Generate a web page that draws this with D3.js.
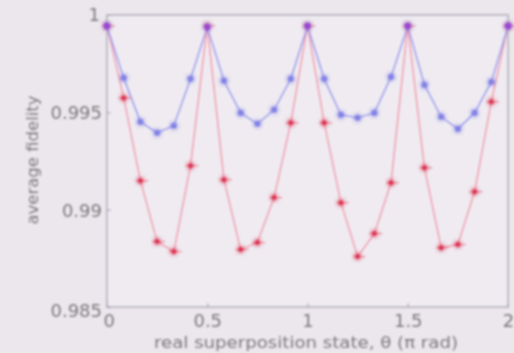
<!DOCTYPE html>
<html><head><meta charset="utf-8">
<script src="https://cdn.jsdelivr.net/npm/d3@7"></script>
<style>html,body{margin:0;padding:0;background:#ece7ec;}</style>
</head><body>
<script>
const theta = d3.range(25).map(k => k / 12);
const blueFidelity = [0.99944,0.99677,0.99451,0.99395,0.99431,0.99672,0.99938,0.99662,0.99497,0.99441,0.99513,0.99672,0.99944,0.99672,0.99487,0.99472,0.99497,0.99682,0.99944,0.99641,0.99477,0.99415,0.99497,0.99656,0.99944];
const redFidelity = [0.99944,0.99574,0.99149,0.98836,0.98785,0.99226,0.99944,0.99154,0.98795,0.98831,0.99062,0.99446,0.99944,0.99446,0.99036,0.98759,0.98877,0.99138,0.99944,0.99215,0.98805,0.98821,0.99092,0.99554,0.99944];
const xTicks = [0, 0.5, 1, 1.5, 2];
const xTickLabels = ["0", "0.5", "1", "1.5", "2"];
const yTicks = [0.985, 0.99, 0.995, 1];
const yTickLabels = ["0.985", "0.99", "0.995", "1"];

const W = 514, H = 353;
const L = 107, R = 508, T = 15, B = 307;
const FONT = "DejaVu Sans, sans-serif";
const TXT = "#7a7a7e";
const svg = d3.select("body").append("svg").attr("width", W).attr("height", H);
const defs = svg.append("defs");
defs.append("filter").attr("id","blur").append("feGaussianBlur").attr("stdDeviation",0.9);
defs.append("filter").attr("id","glow").append("feGaussianBlur").attr("stdDeviation",1.5);
svg.append("rect").attr("width",W).attr("height",H).attr("fill","#ece7ec");
const g = svg.append("g").attr("filter","url(#blur)");

const x = d3.scaleLinear().domain([0, 2]).range([L, R]);
const y = d3.scaleLinear().domain([0.985, 1]).range([B, T]);

g.append("rect").attr("x",L).attr("y",T).attr("width",R-L).attr("height",B-T)
  .attr("fill","#efebf1").attr("stroke","#a2a2b0").attr("stroke-width",1.3);

const xAxis = g.append("g").attr("transform",`translate(0,${B})`)
  .call(d3.axisBottom(x).tickValues(xTicks).tickFormat((d,i)=>xTickLabels[i]).tickSizeInner(-4).tickSizeOuter(0).tickPadding(10));
const yAxis = g.append("g").attr("transform",`translate(${L},0)`)
  .call(d3.axisLeft(y).tickValues(yTicks).tickFormat((d,i)=>yTickLabels[i]).tickSizeInner(-4).tickSizeOuter(0).tickPadding(5));
[xAxis,yAxis].forEach(a=>{
  a.select(".domain").remove();
  a.selectAll("line").attr("stroke","#a2a2b0");
  a.selectAll("text").attr("fill",TXT).attr("font-family",FONT).attr("font-size",18);
});
xAxis.selectAll("text").attr("dy","0.55em");
yAxis.selectAll("text").attr("dy","0.36em");
yAxis.selectAll(".tick").filter(d=>d===0.985).select("text").attr("dy","0.52em");
yAxis.selectAll(".tick").filter(d=>d===1).select("text").attr("dy","0.3em").attr("x",-7);
xAxis.selectAll(".tick").filter(d=>d===0).select("text").attr("dx","0.1em");

const line = d3.line().x((d,i)=>x(theta[i])).y(d=>y(d));
g.append("path").datum(redFidelity).attr("d",line).attr("fill","none").attr("stroke","#f28fa3").attr("stroke-width",1.4);
g.append("path").datum(blueFidelity).attr("d",line).attr("fill","none").attr("stroke","#9a9aee").attr("stroke-width",1.6);

// red error bars
g.append("g").selectAll("line").data(redFidelity).join("line")
  .attr("x1",(d,i)=>x(theta[i])-5).attr("x2",(d,i)=>x(theta[i])+8)
  .attr("y1",d=>y(d)).attr("y2",d=>y(d)).attr("stroke","#ee7a90").attr("stroke-width",1.2);

const drawPts = (data, fill, r) => {
  const gg = g.append("g");
  gg.selectAll("circle.h").data(data).join("circle").attr("cx",(d,i)=>x(theta[i])).attr("cy",d=>y(d)).attr("r",r+2)
    .attr("fill",fill).attr("opacity",0.3).attr("filter","url(#glow)");
  gg.selectAll("circle.p").data(data).join("circle").attr("cx",(d,i)=>x(theta[i])).attr("cy",d=>y(d)).attr("r",r)
    .attr("fill",fill);
};
drawPts(redFidelity, "#de3a5c", 3);
drawPts(blueFidelity, "#8484e6", 3.3);
// purple overlap at peaks
g.append("g").selectAll("circle").data(blueFidelity.filter((d,i)=>i%6===0)).join("circle")
  .attr("cx",(d,i)=>x(i*0.5)).attr("cy",d=>y(d)).attr("r",3.6).attr("fill","#9c48d0");

g.append("text").attr("transform","translate(306,348) scale(1.1,1)").attr("text-anchor","middle")
  .attr("fill",TXT).attr("font-family",FONT).attr("font-size",16.5)
  .text("real superposition state, θ (π rad)");
g.append("text").attr("transform","translate(38,160) rotate(-90)").attr("text-anchor","middle")
  .attr("fill",TXT).attr("font-family",FONT).attr("font-size",16.5)
  .text("average fidelity");
</script>
</body></html>
